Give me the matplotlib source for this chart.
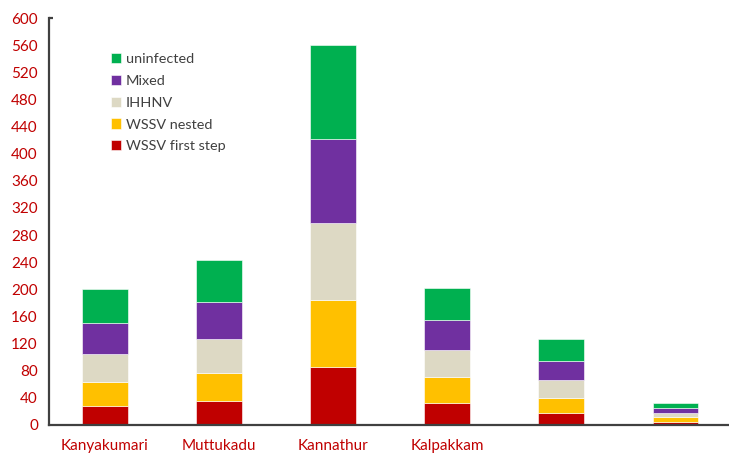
import matplotlib
matplotlib.use("Agg")
import matplotlib.pyplot as plt
import numpy as np

plt.rcParams['font.family'] = ['Lato', 'DejaVu Sans']

sites = ["Kanyakumari", "Muttukadu", "Kannathur", "Kalpakkam", "", ""]
wssv_first = [28, 35, 86, 33, 18, 5]
wssv_nested = [36, 42, 99, 37, 22, 6]
ihhnv = [40, 50, 113, 41, 26, 7]
mixed = [46, 55, 124, 44, 29, 7]
uninfected = [50, 61, 138, 47, 32, 7]

series = [
    ("WSSV first step", wssv_first, "#C00000"),
    ("WSSV nested", wssv_nested, "#FFC000"),
    ("IHHNV", ihhnv, "#DDD9C4"),
    ("Mixed", mixed, "#7030A0"),
    ("uninfected", uninfected, "#00B050"),
]

label_red = "#C00000"
axis_grey = "#404040"

fig = plt.figure(figsize=(7.29, 4.54), dpi=100)
ax = fig.add_axes([0.0672, 0.064, 0.9328, 0.896])

x = np.arange(len(sites))
bottom = np.zeros(len(sites))
handles = []
for name, vals, color in series:
    vals = np.array(vals, dtype=float)
    h = ax.bar(x, vals, width=0.4, bottom=bottom, color=color,
               edgecolor="white", linewidth=0.4, label=name)
    handles.append(h)
    bottom += vals

ax.set_xlim(-0.49, 5.47)
ax.set_ylim(0, 600)
ax.set_yticks(np.arange(0, 601, 40))
ax.set_xticks(x)
ax.set_xticklabels(sites)

ax.tick_params(axis="y", length=0, pad=8, labelcolor=label_red, labelsize=11)
ax.tick_params(axis="x", length=0, pad=10, labelcolor=label_red, labelsize=11)

for s in ["top", "right"]:
    ax.spines[s].set_visible(False)
for s in ["left", "bottom"]:
    ax.spines[s].set_color(axis_grey)
    ax.spines[s].set_linewidth(1.6)
ax.plot([0, 0.006], [1, 1], transform=ax.transAxes, color=axis_grey,
        lw=1.6, clip_on=False, solid_capstyle="butt")

leg = ax.legend(handles[::-1], [s[0] for s in series][::-1],
                loc="upper left", bbox_to_anchor=(0.072, 0.946),
                frameon=False, fontsize=10.4, handlelength=0.72,
                handleheight=0.72, handletextpad=0.3, labelspacing=0.66)
for t in leg.get_texts():
    t.set_color(axis_grey)

fig.savefig("out.png", dpi=100)
